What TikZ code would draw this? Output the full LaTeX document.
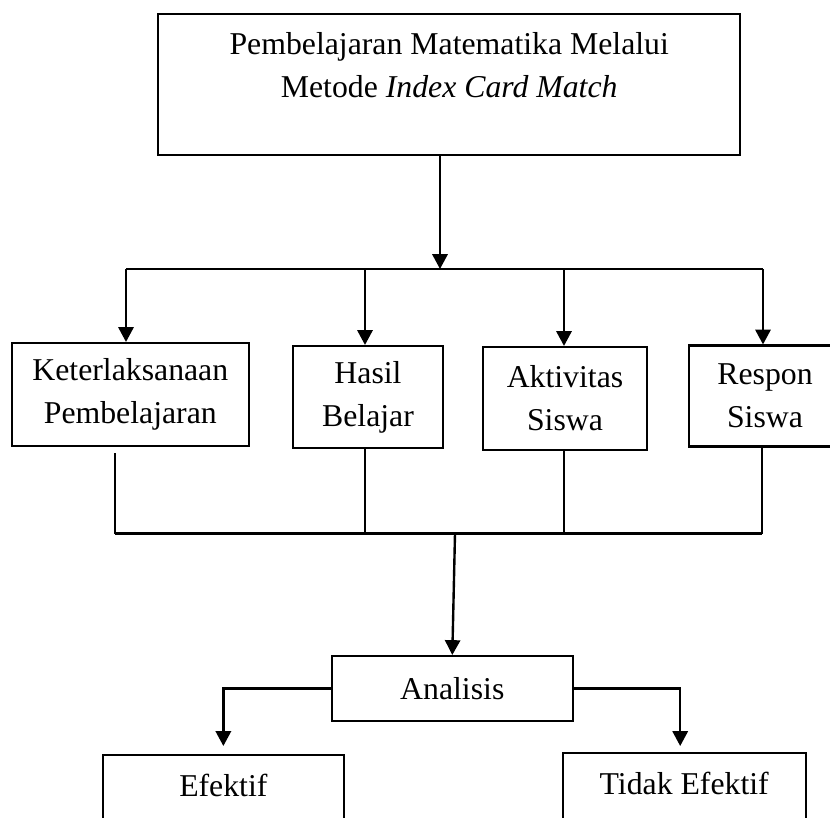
\documentclass[tikz,border=0pt]{standalone}
\usepackage{fontspec}
\setmainfont{Liberation Serif}
\usepackage{tikz}
\usetikzlibrary{arrows.meta, positioning, calc}

\begin{document}
\begin{tikzpicture}[
    box/.style={draw, rectangle, line width=1.5pt, align=center, inner sep=0.2cm,
        font=\fontsize{22.6}{30.6}\selectfont},
    openbox/.style={box, anchor=north, inner ysep=0.425cm, text height=0.6cm, text depth=1.2cm},
    arrow/.style={-{Triangle[length=0.37cm, width=0.38cm]}, line width=1.7pt},
    bus/.style={line width=1.7pt},
    stem/.style={line width=0.8pt}
]
\useasboundingbox (0,0) rectangle (20.75,-20.425);
\clip (0,0) rectangle (20.75,-20.425);

\node[box, anchor=north, minimum width=14.54cm, text height=1.88cm, text depth=1.25cm] (tb) at (11.23,-0.32)
    {Pembelajaran Matematika Melalui\\Metode \textit{Index Card Match}};

\node[box, minimum width=5.935cm, minimum height=2.575cm] (kp) at (3.2575,-9.8625) {Keterlaksanaan\\Pembelajaran};
\node[box, minimum width=3.75cm, minimum height=2.55cm] (hb) at (9.2,-9.925) {Hasil\\Belajar};
\node[box, minimum width=4.1cm, minimum height=2.575cm] (as) at (14.125,-9.9625) {Aktivitas\\Siswa};
\node[box, minimum width=3.8cm, minimum height=2.525cm] (rs) at (19.125,-9.9) {Respon\\Siswa};

\node[box, minimum width=6.035cm, minimum height=1.625cm] (an) at (11.3075,-17.2125) {Analisis};
\node[openbox, minimum width=6.03cm] (ef) at (5.584,-18.85) {Efektif};
\node[openbox, minimum width=6.075cm] (te) at (17.105,-18.8) {Tidak Efektif};

\coordinate (top) at (11,-6.725);
\coordinate (t1) at (3.15,-6.725);
\coordinate (t2) at (9.125,-6.725);
\coordinate (t3) at (14.1,-6.725);
\coordinate (t4) at (19.075,-6.725);

\coordinate (join) at (11.375,-13.3375);
\coordinate (b1) at (2.875,-13.3375);
\coordinate (b2) at (9.125,-13.3375);
\coordinate (b3) at (14.1,-13.3375);
\coordinate (b4) at (19.05,-13.3375);

\draw[arrow] (tb.south -| top) -- (top);
\draw[bus] (t1) -- (t4);
\draw[arrow] (t1) -- (t1 |- kp.north);
\draw[arrow] (t2) -- (t2 |- hb.north);
\draw[arrow] (t3) -- (t3 |- as.north);
\draw[arrow] (t4) -- (t4 |- rs.north);

\draw[stem, shorten <=0.15cm] (b1 |- kp.south) -- (b1);
\draw[stem] (b2 |- hb.south) -- (b2);
\draw[stem] (b3 |- as.south) -- (b3);
\draw[stem] (b4 |- rs.south) -- (b4);
\draw[bus] (b1) -- (b4);

\draw[arrow] (join) -- (an.north);
\draw[arrow] (an.west) -| ([yshift=0.2cm]ef.north);
\draw[arrow] (an.east) -| ([xshift=-0.1cm, yshift=0.15cm]te.north);

\end{tikzpicture}
\end{document}
